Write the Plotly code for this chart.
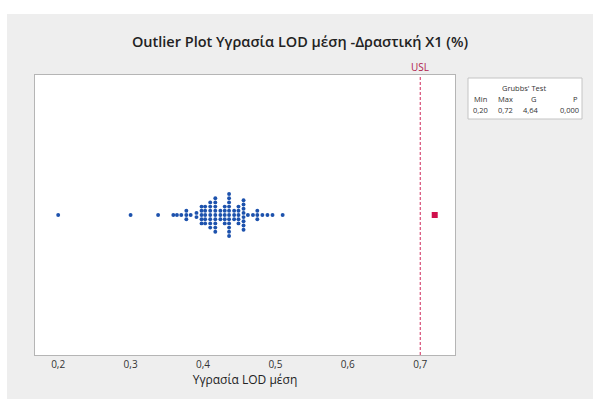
import plotly.graph_objects as go
from collections import Counter

# Moisture LOD mean values (%); the single high value is the Grubbs outlier
values = (
    [0.200, 0.300, 0.338, 0.359, 0.364, 0.370]
    + [0.377] * 3 + [0.383] + [0.391] * 2 + [0.398] * 5 + [0.403] * 5
    + [0.410] * 7 + [0.417] * 9 + [0.424] * 3 + [0.430] * 5 + [0.436] * 11
    + [0.443] * 3 + [0.449] * 5 + [0.456] * 8 + [0.462] + [0.469]
    + [0.475] * 3 + [0.482] + [0.489] + [0.496] + [0.510]
)
outliers = [0.72]
usl = 0.70
tick_vals = [0.2, 0.3, 0.4, 0.5, 0.6, 0.7]
tick_text = ["0,2", "0,3", "0,4", "0,5", "0,6", "0,7"]
grubbs_headers = ["Min", "Max", "G", "P"]
grubbs_values = ["0,20", "0,72", "4,64", "0,000"]

W, H = 593, 399
ML, MR, MT, MB = 35, 138, 75, 44
plot_h = H - MT - MB
y_lo, y_hi = -1.0, 1.0
step = 4.2 * (y_hi - y_lo) / plot_h  # vertical spacing of stacked dots

# stack equal values symmetrically around the centre line
xs, ys = [], []
for v, n in sorted(Counter(values).items()):
    for i in range(n):
        xs.append(v)
        ys.append((i - (n - 1) / 2) * step)

fig = go.Figure()
fig.add_trace(go.Scatter(
    x=xs, y=ys, mode="markers",
    marker=dict(symbol="circle", size=3.9, color="#1d52ad", line=dict(width=0)),
    hoverinfo="x", showlegend=False,
))
fig.add_trace(go.Scatter(
    x=outliers, y=[0] * len(outliers), mode="markers",
    marker=dict(symbol="square", size=6, color="#d0104c", line=dict(width=0)),
    hoverinfo="x", showlegend=False,
))

def px_x(p):
    return (p - ML) / (W - ML - MR)

def px_y(p):
    return (H - MB - p) / plot_h

shapes = [
    # grey panel with a white strip round its top and left edges
    dict(type="rect", xref="paper", yref="paper", layer="below",
         x0=px_x(0), x1=px_x(W), y0=px_y(14), y1=px_y(0),
         fillcolor="white", line=dict(width=0)),
    dict(type="rect", xref="paper", yref="paper", layer="below",
         x0=px_x(0), x1=px_x(7), y0=px_y(H), y1=px_y(0),
         fillcolor="white", line=dict(width=0)),
    # USL reference line
    dict(type="line", xref="x", yref="paper", x0=usl, x1=usl, y0=0, y1=1,
         line=dict(color="#d0285a", width=1, dash="3px,2px")),
    # Grubbs' test box
    dict(type="rect", xref="paper", yref="paper",
         x0=px_x(468), x1=px_x(582), y0=px_y(119), y1=px_y(78),
         fillcolor="white", line=dict(color="#c4c4c4", width=1)),
]

def label(text, x, y, size=7.5, color="#333333", xref="paper"):
    return dict(text=text, x=x, xref=xref, y=px_y(y), yref="paper",
                xanchor="center", yanchor="middle", showarrow=False,
                font=dict(size=size, color=color))

ann = [
    label("USL", usl, 67, size=10, color="#b0204c", xref="x"),
    label("Grubbs' Test", px_x(524), 88),
]
for cx, h in zip([480, 505, 533, 575], grubbs_headers):
    ann.append(label(h, px_x(cx), 99))
for cx, v in zip([480, 505, 531, 569], grubbs_values):
    ann.append(label(v, px_x(cx), 110))

fig.update_layout(
    width=W, height=H,
    margin=dict(l=ML, r=MR, t=MT, b=MB),
    paper_bgcolor="#eeeeee",
    plot_bgcolor="white",
    font=dict(family="Open Sans, Noto Sans, sans-serif", color="#333333"),
    title=dict(
        text="Outlier Plot Υγρασία LOD μέση -Δραστική X1 (%)",
        x=300 / W, xanchor="center", y=1 - 42 / H, yanchor="middle",
        font=dict(size=14.5, color="#222222", weight=600),
    ),
    xaxis=dict(
        range=[0.168, 0.748], tickvals=tick_vals, ticktext=tick_text,
        showgrid=False, zeroline=False, showline=True, linecolor="#b5b5b5",
        mirror=True, ticks="", tickfont=dict(size=10, color="#333333"),
        title=dict(text="Υγρασία LOD μέση", font=dict(size=12, color="#222222"),
                   standoff=2),
    ),
    yaxis=dict(
        range=[y_lo, y_hi], showticklabels=False, showgrid=False,
        zeroline=False, showline=True, linecolor="#b5b5b5", mirror=True, ticks="",
    ),
    shapes=shapes,
    annotations=ann,
)

fig.write_html("out.html")
